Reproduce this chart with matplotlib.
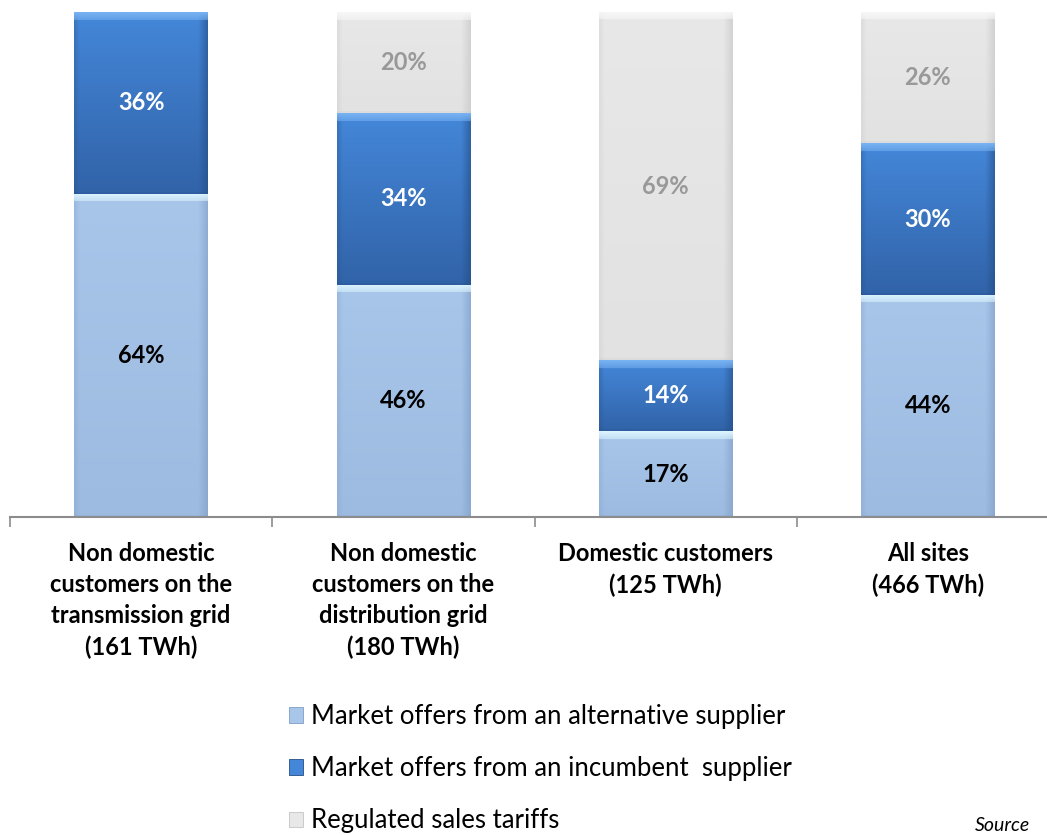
import numpy as np
import matplotlib
matplotlib.use("Agg")
import matplotlib.pyplot as plt
from matplotlib.patches import Patch

categories = ["Non domestic\ncustomers on the\ntransmission grid\n(161 TWh)",
              "Non domestic\ncustomers on the\ndistribution grid\n(180 TWh)",
              "Domestic customers\n(125 TWh)",
              "All sites\n(466 TWh)"]
series_names = ["Market offers from an alternative supplier",
                "Market offers from an incumbent  supplier",
                "Regulated sales tariffs"]
alternative = [64, 46, 17, 44]
incumbent = [36, 34, 14, 30]
regulated = [0, 20, 69, 26]

plt.rcParams['font.family'] = ['Lato', 'DejaVu Sans']

W, H = 1047, 835
fig = plt.figure(figsize=(W / 100, H / 100), dpi=100)
ax = fig.add_axes([10 / W, 1 - 517 / H, 1049 / W, 505 / H])

x = np.arange(len(categories))
bw = 0.51

styles = [
    dict(top="#a8c6ea", bot="#9dbbe0", bevel="#dcf4ff", edge="#7f9dc4", txt="black"),
    dict(top="#4487d9", bot="#3163a8", bevel="#78b2f2", edge="#234d85", txt="white"),
    dict(top="#e8e8e8", bot="#e2e2e2", bevel="#f7f7f7", edge="#c4c4c4", txt="#999999"),
]

def hex2rgb(h):
    return np.array(matplotlib.colors.to_rgb(h))

def shade_patch(patch, st, pix_per_unit):
    bx, by = patch.get_x(), patch.get_y()
    w, h = patch.get_width(), patch.get_height()
    if h <= 0:
        return
    nrows = max(int(h * pix_per_unit), 2)
    ncols = 133
    t = np.linspace(0, 1, nrows)[:, None]
    top, bot = hex2rgb(st["top"]), hex2rgb(st["bot"])
    img = top[None, None, :] * (1 - t[..., None]) + bot[None, None, :] * t[..., None]
    img = np.repeat(img, ncols, axis=1)
    edge = hex2rgb(st["edge"])
    cols = np.linspace(0, 1, ncols)
    side = np.clip((cols - 0.93) / 0.07, 0, 1) * 0.6 + np.clip((0.04 - cols) / 0.04, 0, 1) * 0.3
    img = img * (1 - side[None, :, None]) + edge[None, None, :] * side[None, :, None]
    bev = hex2rgb(st["bevel"])
    nb = min(8, nrows // 3)
    for r in range(nb):
        a = 1 - r / max(nb, 1) * 0.5
        img[r, :, :] = img[r, :, :] * (1 - a) + bev * a
    img[-2:, :, :] = img[-2:, :, :] * 0.8 + edge * 0.2
    im = ax.imshow(img, extent=[bx, bx + w, by, by + h], origin="upper",
                   aspect="auto", zorder=2, interpolation="bilinear")
    im.set_clip_path(patch)

pix_per_unit = 505 / 100.0
bottom = np.zeros(len(categories))
for vals, st in zip([alternative, incumbent, regulated], styles):
    vals = np.array(vals, dtype=float)
    bars = ax.bar(x, vals, bw, bottom=bottom, color=st["top"], linewidth=0, zorder=1)
    for b, v, b0 in zip(bars, vals, bottom):
        shade_patch(b, st, pix_per_unit)
        if v > 0:
            ax.text(b.get_x() + bw / 2, b0 + v / 2, f"{int(v)}%", ha="center", va="center",
                    fontsize=17, fontweight="bold", color=st["txt"], zorder=3)
    bottom = bottom + vals

ax.set_xlim(-0.5, len(categories) - 0.5)
ax.set_ylim(0, 100)
ax.set_yticks([])
for s in ["left", "right", "top"]:
    ax.spines[s].set_visible(False)
ax.spines["bottom"].set_color("#8c8c8c")
ax.spines["bottom"].set_linewidth(1.5)
ax.set_xticks(x)
ax.set_xticklabels(categories, fontsize=17, fontweight="bold", linespacing=1.42)
ax.tick_params(axis="x", which="major", length=0, pad=18)
ax.set_xticks(np.arange(-0.5, len(categories)), minor=True)
ax.tick_params(axis="x", which="minor", length=7, width=1.2, color="#8c8c8c", direction="out")

handles = [Patch(facecolor=st["top"], edgecolor=st["edge"], linewidth=0.6) for st in styles]
leg = fig.legend(handles, series_names, loc="upper left", bbox_to_anchor=(289 / W, 1 - 704 / H),
                 frameon=False, fontsize=18.5, labelspacing=1.06, handlelength=0.55,
                 handleheight=0.55, handletextpad=0.3, borderaxespad=0, borderpad=0)

fig.text(975 / W, 1 - 834 / H, "Source", fontsize=14, style="italic", ha="left", va="bottom")

fig.savefig("out.png", dpi=100)
